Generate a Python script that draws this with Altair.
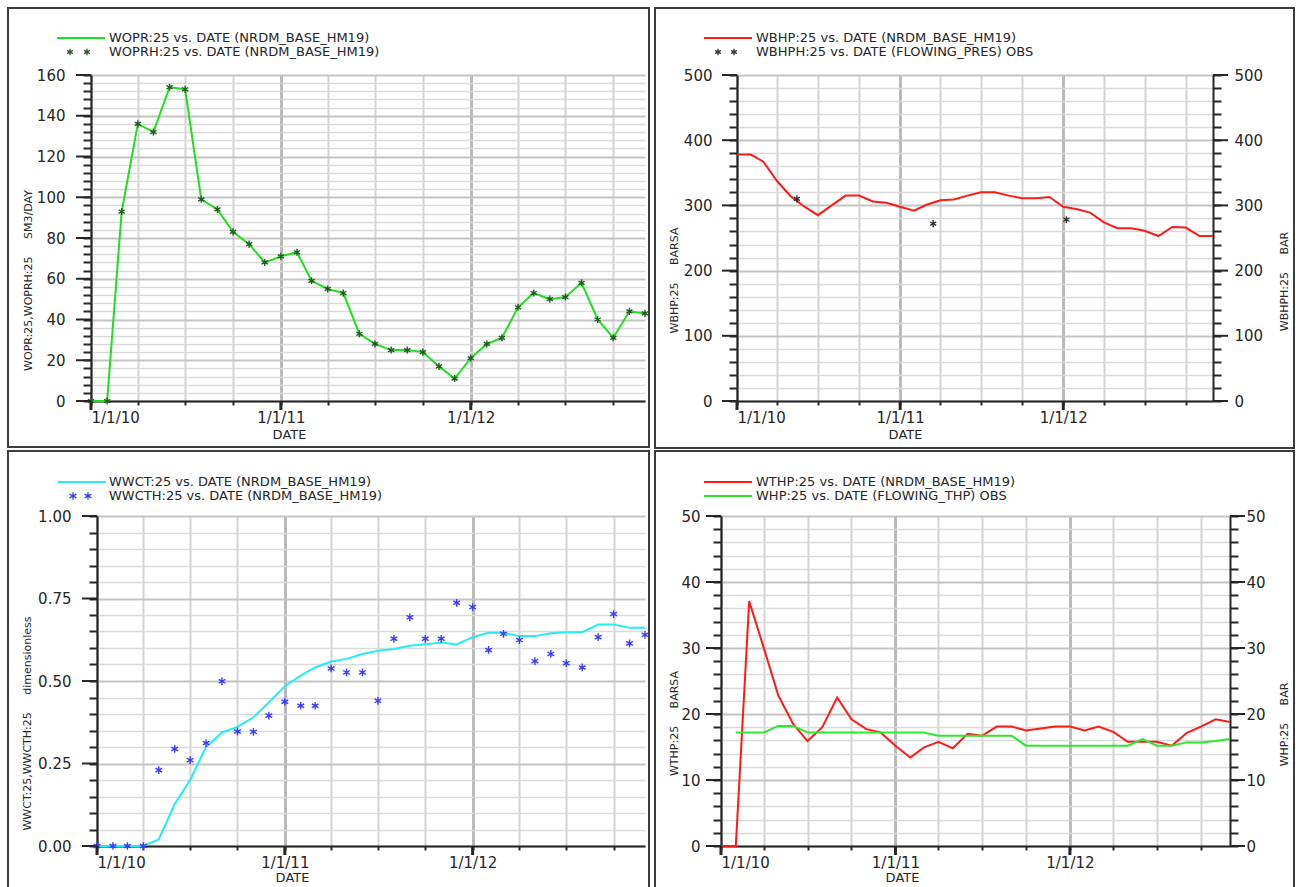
import altair as alt
import pandas as pd

FONT = "DejaVu Sans"
INK = "#262626"
STAR = "M0,-1L0,1M-0.87,-0.5L0.87,0.5M-0.87,0.5L0.87,-0.5"
NB = "\u00a0" * 5

# ---------------- data ----------------
MONTHS = [f"{y}-{m:02d}-01" for y in (2010, 2011, 2012) for m in range(1, 13)]

WOPR = [0, 0, 93, 136, 132, 154, 153, 99, 94, 83, 77, 68,
        71, 73, 59, 55, 53, 33, 28, 25, 25, 24, 17, 11,
        21, 28, 31, 46, 53, 50, 51, 58, 40, 31, 44, 43]
WOPRH = [0, 0, 93, 136, 132, 154, 153, 99, 94, 83, 77, 68,
         71, 73, 59, 55, 53, 33, 28, 25, 25, 24, 17, 11,
         21, 28, 31, 46, 53, 50, 51, 58, 40, 31, 44, 43]

WBHP = [378, 378, 367, 337, 314, 298, 285, 300, 315, 315, 306, 304,
        298, 292, 301, 308, 309, 315, 320, 320, 315, 311, 311, 313,
        298, 294, 289, 274, 265, 265, 261, 253, 267, 266, 253, 253]
WBHPH_DATES = ["2010-05-15", "2011-03-16", "2012-01-08"]
WBHPH = [310, 272, 278]

WWCT = [0, 0, 0, 0, 0.02, 0.127, 0.20, 0.30, 0.344, 0.361, 0.39, 0.435,
        0.484, 0.516, 0.541, 0.559, 0.567, 0.582, 0.592, 0.597, 0.607, 0.611, 0.617, 0.611,
        0.633, 0.646, 0.646, 0.636, 0.636, 0.645, 0.648, 0.648, 0.671, 0.671, 0.661, 0.661]
WWCTH = [0, 0, 0, 0, 0.230, 0.294, 0.260, 0.312, 0.499, 0.347, 0.346, 0.395,
         0.437, 0.425, 0.425, 0.538, 0.526, 0.526, 0.440, 0.628, 0.693, 0.628, 0.628, 0.737,
         0.724, 0.594, 0.643, 0.624, 0.560, 0.582, 0.554, 0.541, 0.633, 0.703, 0.614, 0.640]

WTHP = [0, 0, 37.1, 29.9, 22.8, 18.5, 15.9, 18.0, 22.5, 19.2, 17.7, 17.2,
        15.2, 13.4, 14.9, 15.8, 14.8, 17.0, 16.7, 18.1, 18.1, 17.5, 17.8, 18.1,
        18.1, 17.5, 18.1, 17.3, 15.8, 15.8, 15.8, 15.2, 17.1, 18.1, 19.2, 18.8]
WHP_DATES = MONTHS[1:]
WHP = [17.2, 17.2, 17.2, 18.2, 18.2, 17.2, 17.2, 17.2, 17.2, 17.2, 17.2,
       17.2, 17.2, 17.2, 16.7, 16.7, 16.7, 16.7, 16.7, 16.7, 15.2, 15.2, 15.2,
       15.2, 15.2, 15.2, 15.2, 15.2, 16.2, 15.2, 15.2, 15.7, 15.7, 15.9, 16.2]

QUARTERS = ["2010-01-01", "2010-04-01", "2010-07-01", "2010-10-01",
            "2011-01-01", "2011-04-01", "2011-07-01", "2011-10-01",
            "2012-01-01", "2012-04-01", "2012-07-01", "2012-10-01"]
YEARS = ["2010-01-01", "2011-01-01", "2012-01-01"]
X_START, X_END = "2010-01-01", "2012-12-01"

P1_TICKS = list(range(0, 161, 4)); P1_MAJOR = list(range(0, 161, 20))
P2_TICKS = list(range(0, 501, 20)); P2_MAJOR = list(range(0, 501, 100))
P3_TICKS = [round(i * 0.05, 2) for i in range(21)]; P3_MAJOR = [0, 0.25, 0.5, 0.75, 1.0]
P4_TICKS = list(range(0, 51, 2)); P4_MAJOR = list(range(0, 51, 10))


def ms(d):
    return int(pd.Timestamp(d, tz="UTC").value // 1_000_000)


X_DOMAIN = [ms(X_START), ms(X_END)]
QUARTER_MS = [ms(q) for q in QUARTERS]
YEAR_TEST = "utcmonth(datum.value) === 0"


def one():
    return pd.DataFrame({"k": [0]})


def x_enc(title_x, title_y):
    return alt.X(
        "date:T",
        scale=alt.Scale(type="utc", domain=X_DOMAIN),
        axis=alt.Axis(
            values=QUARTER_MS,
            labelExpr=f"{YEAR_TEST} ? utcFormat(datum.value, '%-m/%-d/%y') : ''",
            labelFlush=True, labelOverlap=False, labelFont=FONT, labelFontSize=15,
            labelColor=INK, labelPadding=5, tickSize=4, tickWidth=2, tickColor=INK,
            domainColor=INK, domainWidth=2, grid=True,
            gridColor={"condition": {"test": YEAR_TEST, "value": "#bababa"}, "value": "#d3d3d3"},
            gridWidth={"condition": {"test": YEAR_TEST, "value": 3}, "value": 2},
            title="DATE", titleFont=FONT, titleFontSize=13, titleFontWeight="normal",
            titleColor=INK, titleX=title_x, titleY=title_y, titleAlign="center",
            titleBaseline="middle", titleAngle=0,
        ),
    )


def y_axis(ticks, step, fmt, title, tx, ty, pad, orient="left", grid=True):
    test = f"abs(datum.value / {step} - round(datum.value / {step})) < 0.000001"
    kw = dict(
        values=ticks, orient=orient, format=fmt, labelExpr=f"{test} ? datum.label : ''",
        labelOverlap=False, labelFont=FONT, labelFontSize=15, labelColor=INK, labelPadding=pad,
        tickSize=8, tickWidth=2, tickColor=INK, domainColor=INK, domainWidth=2,
        title=title, titleFont=FONT, titleFontSize=11, titleFontWeight="normal", titleColor=INK,
        titleAngle=270, titleAlign="center", titleBaseline="bottom", titleX=tx, titleY=ty,
        grid=grid,
    )
    if grid:
        kw["gridColor"] = {"condition": {"test": test, "value": "#c4c4c4"}, "value": "#d9d9d9"}
        kw["gridWidth"] = {"condition": {"test": test, "value": 2}, "value": 1.5}
    return alt.Axis(**kw)


def border(x0, x1, y0, y1):
    return alt.Chart(one()).mark_rect(fill="transparent", stroke="#3c3c3c", strokeWidth=2).encode(
        x=alt.value(x0), x2=alt.value(x1), y=alt.value(y0), y2=alt.value(y1))


def legend_line(x0, x1, y, color):
    return alt.Chart(one()).mark_rule(color=color, strokeWidth=2).encode(
        x=alt.value(x0), x2=alt.value(x1), y=alt.value(y))


def legend_star(x, y, color, size):
    return alt.Chart(one()).mark_point(shape=STAR, size=size, filled=False, color=color,
                                       strokeWidth=1.3, opacity=1).encode(x=alt.value(x), y=alt.value(y))


def legend_text(x, y, text):
    return alt.Chart(pd.DataFrame({"label": [text]})).mark_text(
        align="left", baseline="middle", font=FONT, fontSize=13, color=INK).encode(
        x=alt.value(x), y=alt.value(y), text="label:N")


def y_major(values, ys, x0, x1):
    return alt.Chart(pd.DataFrame({"v": values})).mark_rule(color=INK, strokeWidth=2).encode(
        y=alt.Y("v:Q", scale=ys, axis=None), x=alt.value(x0), x2=alt.value(x1))


def x_major(xe, h):
    return alt.Chart(pd.DataFrame({"date": YEARS})).mark_rule(color=INK, strokeWidth=3).encode(
        x=xe, y=alt.value(h), y2=alt.value(h + 9))


def line_layer(dates, vals, color, xe, ys, axis):
    return alt.Chart(pd.DataFrame({"date": dates, "v": vals})).mark_line(
        color=color, strokeWidth=2).encode(x=xe, y=alt.Y("v:Q", scale=ys, axis=axis))


def star_layer(dates, vals, color, size, xe, ys, axis):
    return alt.Chart(pd.DataFrame({"date": dates, "v": vals})).mark_point(
        shape=STAR, size=size, filled=False, color=color, strokeWidth=1.4, opacity=1).encode(
        x=xe, y=alt.Y("v:Q", scale=ys, axis=axis))


def spacer(w, h):
    return alt.Chart(one()).mark_point(opacity=0).encode(
        x=alt.value(0), y=alt.value(0)).properties(width=w, height=h)


# ---------------- panel 1 ----------------
W1, H1 = 554, 326
xe1 = x_enc(198, 33)
ys1 = alt.Scale(domain=[0, 160], nice=False, zero=False)
p1 = alt.layer(
    border(-83, 558, -67, 372),
    line_layer(MONTHS, WOPR, "#1fe01f", xe1, ys1,
               y_axis(P1_TICKS, 20, "d", "WOPR:25,WOPRH:25" + NB + "SM3/DAY", -58, 205, 18)),
    star_layer(MONTHS, WOPRH, "#1f5a1f", 50, xe1, ys1, None),
    y_major(P1_MAJOR, ys1, -15, 0),
    x_major(xe1, H1),
    legend_line(-34, 14, -37, "#1fe01f"),
    legend_text(18, -37, "WOPR:25 vs. DATE (NRDM_BASE_HM19)"),
    legend_star(-21, -23, "#1f5a1f", 45),
    legend_star(-4, -23, "#1f5a1f", 45),
    legend_text(18, -23, "WOPRH:25 vs. DATE (NRDM_BASE_HM19)"),
).resolve_axis(y="independent").properties(width=W1, height=H1)

# ---------------- panel 2 ----------------
W2, H2 = 476, 326
xe2 = x_enc(168, 33)
ys2 = alt.Scale(domain=[0, 500], nice=False, zero=False)
p2 = alt.layer(
    border(-82, 557, -67, 373),
    line_layer(MONTHS, WBHP, "#ff1a1a", xe2, ys2,
               y_axis(P2_TICKS, 100, "d", "WBHP:25" + NB + "BARSA", -58, 205, 17)),
    star_layer(WBHPH_DATES, WBHPH, "#333333", 50, xe2, ys2,
               y_axis(P2_TICKS, 100, "d", "WBHPH:25" + NB + "BAR", 76, 206, 13,
                      orient="right", grid=False)),
    y_major(P2_MAJOR, ys2, -15, 0),
    y_major(P2_MAJOR, ys2, W2, W2 + 15),
    x_major(xe2, H2),
    legend_line(-33, 15, -37, "#ff1a1a"),
    legend_text(19, -37, "WBHP:25 vs. DATE (NRDM_BASE_HM19)"),
    legend_star(-19, -23, "#333333", 45),
    legend_star(-3, -23, "#333333", 45),
    legend_text(19, -23, "WBHPH:25 vs. DATE (FLOWING_PRES) OBS"),
).resolve_axis(y="independent").properties(width=W2, height=H2)

# ---------------- panel 3 ----------------
W3, H3 = 548, 330
xe3 = x_enc(195, 31)
ys3 = alt.Scale(domain=[0, 1], nice=False, zero=False)
p3 = alt.layer(
    border(-89, 552, -65, 379),
    line_layer(MONTHS, WWCT, "#22eef2", xe3, ys3,
               y_axis(P3_TICKS, 0.25, ".2f", "WWCT:25,WWCTH:25" + NB + "dimensionless", -65, 207, 18)),
    star_layer(MONTHS, WWCTH, "#3a3aff", 60, xe3, ys3, None),
    y_major(P3_MAJOR, ys3, -15, 0),
    x_major(xe3, H3),
    legend_line(-39, 9, -34, "#22eef2"),
    legend_text(12, -34, "WWCT:25 vs. DATE (NRDM_BASE_HM19)"),
    legend_star(-24, -20, "#3a3aff", 60),
    legend_star(-9, -20, "#3a3aff", 60),
    legend_text(12, -20, "WWCTH:25 vs. DATE (NRDM_BASE_HM19)"),
).resolve_axis(y="independent").properties(width=W3, height=H3)

# ---------------- panel 4 ----------------
W4, H4 = 509, 330
xe4 = x_enc(181, 31)
ys4 = alt.Scale(domain=[0, 50], nice=False, zero=False)
p4 = alt.layer(
    border(-66, 573, -65, 379),
    line_layer(MONTHS, WTHP, "#ff1a1a", xe4, ys4,
               y_axis(P4_TICKS, 10, "d", "WTHP:25" + NB + "BARSA", -42, 207, 13)),
    line_layer(WHP_DATES, WHP, "#2ee82e", xe4, ys4,
               y_axis(P4_TICKS, 10, "d", "WHP:25" + NB + "BAR", 59, 208, 8,
                      orient="right", grid=False)),
    y_major(P4_MAJOR, ys4, -15, 0),
    y_major(P4_MAJOR, ys4, W4, W4 + 15),
    x_major(xe4, H4),
    legend_line(-17, 31, -34, "#ff1a1a"),
    legend_text(35, -34, "WTHP:25 vs. DATE (NRDM_BASE_HM19)"),
    legend_line(-17, 31, -20, "#2ee82e"),
    legend_text(35, -20, "WHP:25 vs. DATE (FLOWING_THP) OBS"),
).resolve_axis(y="independent").properties(width=W4, height=H4)

row1 = alt.hconcat(p1, spacer(92, H1), p2, spacing=0, bounds="flush")
row2 = alt.hconcat(spacer(6, H3), p3, spacer(76, H3), p4, spacing=0, bounds="flush")

# In flush mode the nested rows count as zero-height, so the spacing carries
# row 1's plot height (326) plus the 115 px gap between the rows.
chart = alt.vconcat(row1, row2, spacing=H1 + 115, bounds="flush").properties(
    padding={"left": 7, "top": 7, "right": 0, "bottom": 0},
    background="white",
).configure_view(stroke=None)

chart.save("out.html", embed_options={"renderer": "svg", "actions": False})
